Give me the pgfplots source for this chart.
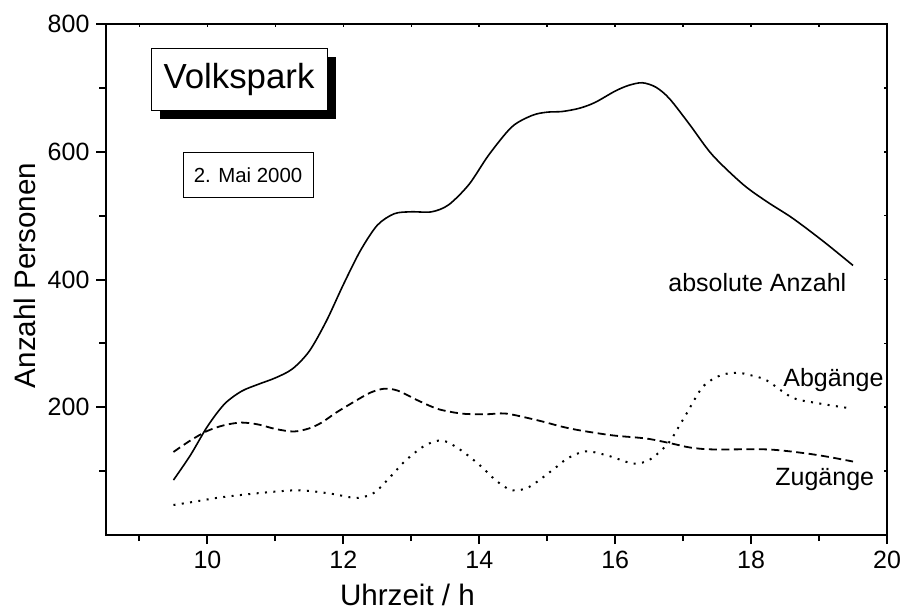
\documentclass[border=0pt]{standalone}
\usepackage{fontspec}
\setmainfont{Liberation Sans}
\usepackage{pgfplots}
\pgfplotsset{compat=1.18}
\usetikzlibrary{shadows}
\begin{document}
\begin{tikzpicture}
\begin{axis}[
  scale only axis,
  width=390.75pt, height=255.5pt,
  at={(52.75pt,37.5pt)}, anchor=south west,
  xmin=8.5, xmax=20, ymin=0, ymax=800,
  axis line style={line width=1pt},
  every tick/.style={line width=1pt, black},
  tick align=outside,
  xtick pos=left, ytick pos=left,
  xtick={10,12,14,16,18,20},
  minor xtick={9,11,13,15,17,19},
  ytick={200,400,600,800},
  minor ytick={100,300,500,700},
  major tick length=4.5pt, minor tick length=3pt,
  /pgf/number format/assume math mode=true,
  ticklabel style={font=\fontsize{12.5}{15}\selectfont},
  xlabel={Uhrzeit / h},
  ylabel={Anzahl Personen},
  every axis x label/.style={at={(rel axis cs:0.3864,-0.137)}, anchor=base, font=\fontsize{14.8}{17}\selectfont},
  every axis y label/.style={at={(rel axis cs:-0.0902,0.508)}, anchor=base, rotate=90, font=\fontsize{14.8}{17}\selectfont},
  clip=false,
]
\addplot[black, line width=0.8pt, smooth, tension=0.5] coordinates {
(9.5,86) (9.75,125) (10.0,170) (10.25,205) (10.5,225) (10.75,236) (11.0,246)
(11.25,260) (11.5,288) (11.75,335) (12.0,392) (12.25,445) (12.5,485) (12.75,503)
(13.0,506) (13.3,506) (13.55,517) (13.85,549) (14.14,595) (14.48,639) (14.78,657)
(15.0,662) (15.22,663) (15.47,668) (15.7,677) (16.0,695) (16.2,704) (16.4,708) (16.6,701)
(16.8,683) (17.1,642) (17.43,595) (17.88,549) (18.23,522) (18.61,496) (19.06,460)
(19.5,422)
};
\addplot[black, line width=0.9pt, dash pattern=on 4pt off 2.25pt, smooth, tension=0.5] coordinates {
(9.5,130) (9.75,148) (10.0,163) (10.25,172) (10.5,176) (10.75,173) (11.0,166)
(11.27,162) (11.5,167) (11.68,176) (11.9,192) (12.18,210) (12.4,223) (12.6,229)
(12.8,226) (13.11,210) (13.4,197) (13.75,190) (14.1,189) (14.4,190) (14.88,179)
(15.2,170) (15.47,164) (15.96,156) (16.46,151) (16.84,143) (17.1,137) (17.43,134)
(18.23,134) (18.72,129) (19.1,123) (19.5,115)
};
\addplot[black, line width=1pt, dash pattern=on 1pt off 3.2pt, smooth, tension=0.5] coordinates {
(9.5,47) (9.8,52) (10.2,59) (10.8,66) (11.34,70) (11.8,65) (12.18,58) (12.4,63)
(12.52,72) (12.7,92) (12.92,117) (13.2,140) (13.45,148) (13.7,135) (14.0,110)
(14.25,85) (14.48,70) (14.73,75) (15.07,101) (15.3,120) (15.57,131) (15.9,124)
(16.25,112) (16.45,115) (16.6,125) (16.8,146) (16.95,172) (17.05,190) (17.29,232)
(17.55,250) (17.79,254) (18.0,250) (18.23,242) (18.61,215) (19.0,206) (19.48,198)
};
\end{axis}
\begin{axis}[
  scale only axis,
  width=390.75pt, height=255.5pt,
  at={(52.75pt,37.5pt)}, anchor=south west,
  xmin=8.5, xmax=20, ymin=0, ymax=800,
  axis line style={draw=none},
  every tick/.style={line width=0.8pt, black},
  tick align=inside,
  xtick pos=right, ytick pos=right,
  xtick={9,10,...,19},
  ytick={100,200,...,700},
  major tick length=1.5pt,
  xticklabels={}, yticklabels={},
]
\end{axis}
\node[draw, line width=0.5pt, fill=white, minimum width=88pt, minimum height=31pt, inner sep=0pt,
  drop shadow={shadow xshift=4.5pt, shadow yshift=-4pt, fill=black, opacity=1},
  font=\fontsize{17.4}{20}\selectfont] at (119.5pt,265pt) {Volkspark};
\node[draw, line width=0.5pt, fill=white, minimum width=65pt, minimum height=22.5pt, inner sep=0pt,
  font=\fontsize{10.2}{12}\selectfont] at (124pt,217.25pt) {2. Mai 2000};
\node[anchor=base west, inner sep=0pt, font=\fontsize{12.5}{15}\selectfont] at (334pt,159.15pt) {absolute Anzahl};
\node[anchor=base west, inner sep=0pt, font=\fontsize{12.5}{15}\selectfont] at (391.5pt,111.65pt) {Abgänge};
\node[anchor=base west, inner sep=0pt, font=\fontsize{12.5}{15}\selectfont] at (387.5pt,62.15pt) {Zugänge};
\pgfresetboundingbox
\path[use as bounding box] (0,0) rectangle (452pt,305pt);
\end{tikzpicture}
\end{document}
